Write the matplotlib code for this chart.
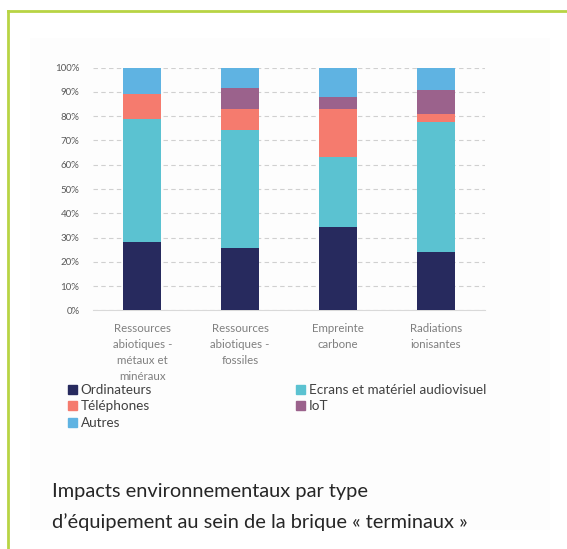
import matplotlib
matplotlib.use("Agg")
from matplotlib import pyplot as plt
from matplotlib.patches import Patch, Rectangle
from matplotlib.lines import Line2D
import matplotlib.ticker as ticker
import numpy as np

categories = ["Ressources\nabiotiques -\nmétaux et\nminéraux",
              "Ressources\nabiotiques -\nfossiles",
              "Empreinte\ncarbone",
              "Radiations\nionisantes"]
series_names = ["Ordinateurs", "Ecrans et matériel audiovisuel", "Téléphones", "IoT", "Autres"]
ordinateurs = [28.0, 25.8, 34.3, 24.2]
ecrans = [50.7, 48.5, 28.7, 53.5]
telephones = [10.3, 8.5, 20.0, 3.3]
iot = [0.0, 8.7, 5.0, 9.9]
autres = [11.0, 8.5, 12.0, 9.1]
colors = ["#272a5e", "#5bc2d1", "#f57b6e", "#9b628c", "#5fb3e2"]

plt.rcParams["font.family"] = ["Lato", "DejaVu Sans"]

fig = plt.figure(figsize=(5.67, 5.49), dpi=100)
fig.patch.set_facecolor("white")

# faint slide panel + green frame
fig.patches.append(Rectangle((30 / 567, 1 - 530 / 549), 520 / 567, 492 / 549,
                             transform=fig.transFigure, facecolor="#fdfdfd",
                             edgecolor="none", zorder=-5))
fig.add_artist(Line2D([8 / 567, 8 / 567], [0, 1 - 11 / 549], transform=fig.transFigure,
                      color="#b8d444", lw=2))
fig.add_artist(Line2D([8 / 567, 1], [1 - 11 / 549, 1 - 11 / 549], transform=fig.transFigure,
                      color="#b8d444", lw=2))

ax = fig.add_axes([93.3 / 567, 1 - 310.3 / 549, 391.7 / 567, 242.6 / 549])
ax.patch.set_alpha(0)
ax.set_zorder(2)

x = np.arange(len(categories))
data = [ordinateurs, ecrans, telephones, iot, autres]
bottom = np.zeros(len(categories))
for vals, name, c in zip(data, series_names, colors):
    ax.bar(x, vals, width=0.39, bottom=bottom, color=c, label=name, zorder=3)
    bottom += np.array(vals)

ax.set_xlim(-0.5, 3.5)
ax.set_ylim(0, 100)
ax.set_yticks(np.arange(0, 101, 10))
ax.yaxis.set_major_formatter(ticker.FuncFormatter(lambda v, p: f"{int(v)}%"))
ax.grid(axis="y", color="#d0d0d0", linestyle=(0, (4, 3)), lw=0.8, zorder=0)
for s in ["top", "right", "left"]:
    ax.spines[s].set_visible(False)
ax.spines["bottom"].set_color("#d9d9d9")
ax.tick_params(axis="y", length=0, labelsize=7, labelcolor="#595959", pad=10)
ax.tick_params(axis="x", length=0, labelsize=8.3, labelcolor="#7f7f7f", pad=9)
ax.set_xticks(x)
ax.set_xticklabels(categories, linespacing=1.55)

order = [0, 2, 4, 1, 3]
handles = [Patch(color=colors[i]) for i in order]
labels = [series_names[i] for i in order]
fig.legend(handles, labels, ncol=2, loc="upper left",
           bbox_to_anchor=(68 / 567, 1 - 384 / 549), frameon=False,
           fontsize=9.7, labelcolor="#404040", handlelength=0.65, handleheight=0.65,
           handletextpad=0.3, columnspacing=10.7, labelspacing=0.33,
           borderpad=0, borderaxespad=0)

fig.text(52 / 567, 1 - 492 / 549, "Impacts environnementaux par type",
         fontsize=14.4, color="#262626", va="center", ha="left")
fig.text(52 / 567, 1 - 522 / 549, "d’équipement au sein de la brique « terminaux »",
         fontsize=14.4, color="#262626", va="center", ha="left")

fig.savefig("out.png", dpi=100)
